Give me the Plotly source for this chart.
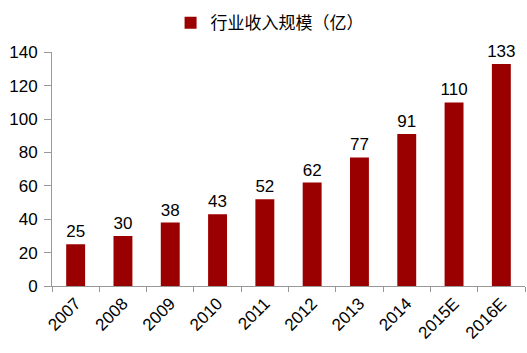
import plotly.graph_objects as go

years = ["2007", "2008", "2009", "2010", "2011", "2012", "2013", "2014", "2015E", "2016E"]
revenue = [25, 30, 38, 43, 52, 62, 77, 91, 110, 133]
y_ticks = [0, 20, 40, 60, 80, 100, 120, 140]
series_name = "行业收入规模（亿）"

fig = go.Figure()
fig.add_trace(go.Bar(
    x=years, y=revenue, name=series_name,
    marker=dict(color="#9B0000", line=dict(width=0)),
    text=[str(v) for v in revenue], textposition="outside", constraintext="none",
    textfont=dict(size=17, color="#000000"), cliponaxis=False,
    width=0.4,
))
fig.update_layout(
    width=527, height=353,
    margin=dict(l=52, r=2, t=41, b=67),
    paper_bgcolor="white", plot_bgcolor="white",
    font=dict(family="Liberation Sans, Arial, Noto Sans CJK SC", size=16, color="#000000"),
    showlegend=True,
    legend=dict(orientation="h", x=0.46, xanchor="center", y=0.985, yanchor="top",
                yref="container", font=dict(size=17, family="Noto Sans CJK SC, Liberation Sans"),
                bgcolor="rgba(0,0,0,0)"),
    bargap=0.6,
)
fig.update_xaxes(showline=True, linecolor="#999999", linewidth=1, ticks="outside",
                 tickson="boundaries", ticklen=5, tickcolor="#999999",
                 tickangle=-45, showgrid=False, tickfont=dict(size=17))
fig.update_yaxes(range=[0, 140], tickvals=y_ticks, showline=True, linecolor="#999999",
                 linewidth=1, ticks="outside", ticklen=7, tickcolor="#999999",
                 ticklabelstandoff=3,
                 showgrid=False, zeroline=False, tickfont=dict(size=17))
fig.write_html("out.html")
